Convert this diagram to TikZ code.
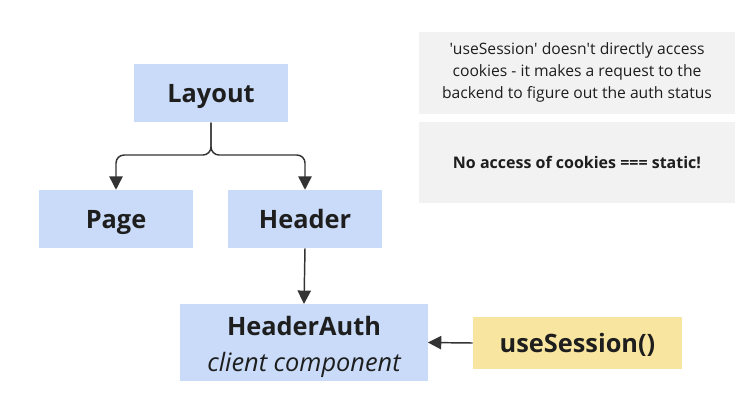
\documentclass[tikz,border=0pt]{standalone}
\usepackage{fontspec}
\setmainfont{Open Sans}
\usetikzlibrary{arrows.meta}
\definecolor{boxblue}{HTML}{C9DBF8}
\definecolor{boxyellow}{HTML}{F8E6A0}
\definecolor{notegray}{HTML}{F2F2F2}
\definecolor{inkdark}{HTML}{1E1E1E}
\definecolor{linkdark}{HTML}{333333}
\tikzset{
	comp/.style={fill=boxblue, inner sep=0pt, text=inkdark, text height=17.5pt, text depth=3pt, font=\fontsize{19}{23}\selectfont\bfseries},
	hook/.style={fill=boxyellow, inner sep=0pt, text=inkdark, text height=17pt, text depth=3pt, font=\fontsize{19}{23}\selectfont\bfseries},
	note/.style={fill=notegray, inner sep=0pt, text=inkdark, align=center, font=\fontsize{11.75}{16.5}\selectfont},
	link/.style={draw=linkdark, line width=1.1pt, -{Triangle[length=10pt,width=10pt]}},
}
\begin{document}
\begin{tikzpicture}[x=0.75pt, y=-0.75pt]
		\useasboundingbox (0,0) rectangle (752,411);
		% component tree
		\node[comp, minimum width=115.5pt, minimum height=44pt] (layout) at (211,93) {Layout};
		\node[comp, minimum width=115.5pt, minimum height=43.5pt] (page) at (116,219) {Page};
		\node[comp, minimum width=115.5pt, minimum height=43.5pt] (header) at (305,219) {Header};
		\node[comp, text height=48pt, text depth=4.2pt, minimum width=185.5pt, minimum height=57.5pt, align=center] (headerauth) at (304,342.5)
			{HeaderAuth\\[4pt]{\mdseries\itshape client component}};
		\node[hook, minimum width=156.75pt, minimum height=39pt] (usesession) at (577.5,343) {useSession()};
		% notes
		\node[note, minimum width=237pt, minimum height=61.5pt] (notefetch) at (577,72.5)
			{\textquotesingle useSession\textquotesingle{} doesn\textquotesingle t directly access\\cookies - it makes a request to the\\backend to figure out the auth status};
		\node[note, minimum width=237pt, minimum height=60.75pt, font=\fontsize{12}{16}\selectfont\bfseries] (notestatic) at (577,162)
			{No access of cookies === static!};
		% connectors
		\coordinate (split) at (211,155);
		\draw[link, rounded corners=6pt] (layout.south) -- (split) -| (page.north);
		\draw[link, rounded corners=6pt] (layout.south) -- (split) -| (header.north);
		\draw[link] (header.south) -- (headerauth.north);
		\draw[link] (usesession.west) -- (headerauth.east);
	\end{tikzpicture}
\end{document}
